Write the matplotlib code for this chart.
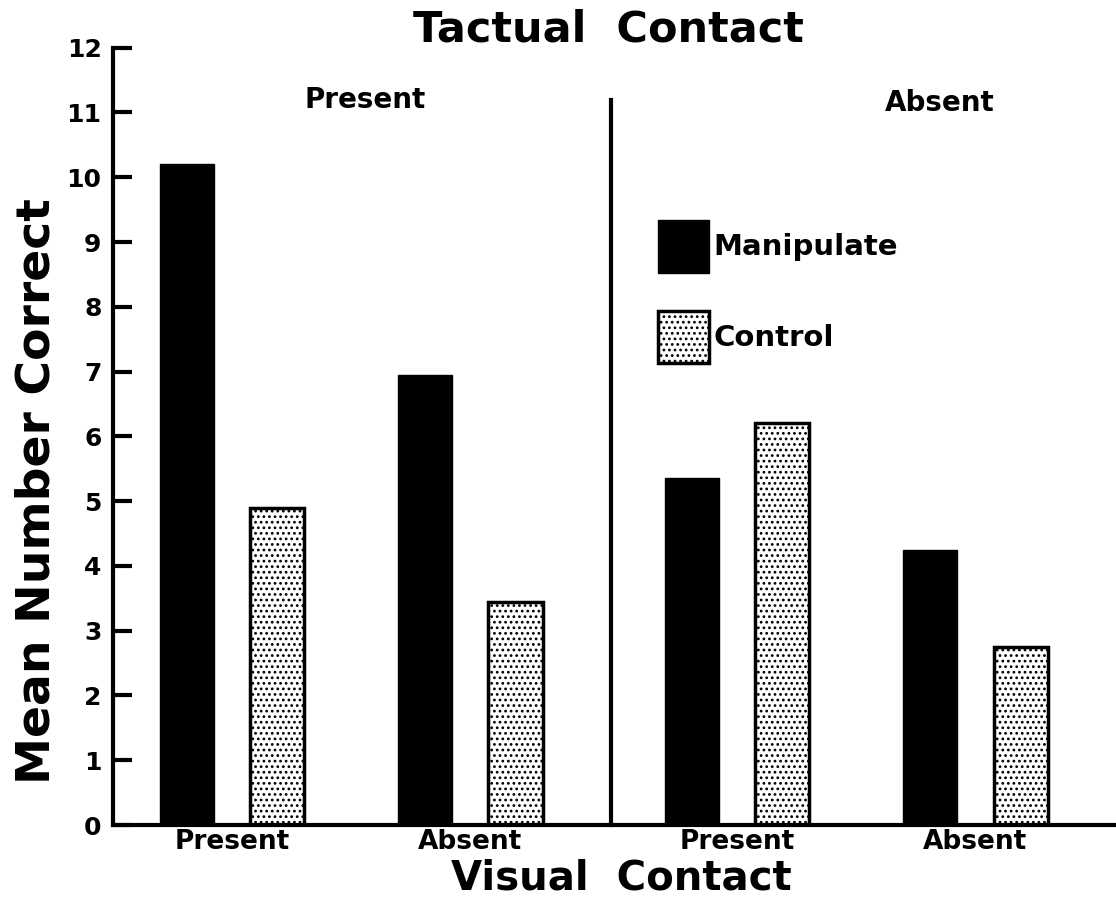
import matplotlib
matplotlib.use("Agg")
import matplotlib.pyplot as plt
import numpy as np

# data
visual = ["Present", "Absent", "Present", "Absent"]
tactual = ["Present", "Absent"]
manipulate = [10.2, 6.95, 5.35, 4.25]
control = [4.9, 3.45, 6.2, 2.75]

plt.rcParams['font.family'] = ['DejaVu Sans']
plt.rcParams['hatch.linewidth'] = 1.2

fig = plt.figure(figsize=(11.16, 9.07), dpi=100)
ax = fig.add_axes([0.101, 0.0904, 0.899, 0.857])

# group centres, a bit more room between the two tactual blocks
x = np.array([0, 1, 2.12, 3.12])
w = 0.227
off = 0.19

b1 = ax.bar(x - off, manipulate, w, color='black', edgecolor='black', label='Manipulate')
b2 = ax.bar(x + off, control, w, color='white', edgecolor='black', linewidth=2.5,
            hatch='...', label='Control')

ax.set_xlim(-0.5, 3.71)
ax.set_ylim(0, 12)
ax.set_yticks(range(0, 13))
ax.set_yticklabels([str(i) for i in range(13)], fontsize=18, fontweight='bold')
ax.tick_params(axis='y', direction='in', length=14, width=3, pad=8)
ax.set_xticks(x)
ax.set_xticklabels(visual, fontsize=19, fontweight='bold')
ax.tick_params(axis='x', length=0, pad=3)

for s in ['top', 'right']:
    ax.spines[s].set_visible(False)
ax.spines['left'].set_linewidth(3)
ax.spines['bottom'].set_linewidth(3)

# divider between tactual present / absent
mid = (x[1] + x[2]) / 2 + 0.03
ax.plot([mid, mid], [0, 11.2], color='black', linewidth=3, clip_on=False)

ax.text((x[0] + x[1]) / 2 + 0.058, 11.2, tactual[0], ha='center', va='center',
        fontsize=20, fontweight='bold')
ax.text((x[2] + x[3]) / 2 + 0.35, 11.15, tactual[1], ha='center', va='center',
        fontsize=20, fontweight='bold')

ax.set_ylabel('Mean Number Correct', fontsize=34, fontweight='bold')
ax.yaxis.set_label_coords(-0.053, 0.43)
fig.text(0.545, 0.968, 'Tactual  Contact', ha='center', va='center',
         fontsize=31, fontweight='bold')
fig.text(0.557, 0.053, 'Visual  Contact', ha='center', va='top',
         fontsize=29, fontweight='bold')

ax.legend(handles=[b1, b2], loc='upper left', bbox_to_anchor=(0.517, 0.812),
          frameon=False, prop={'weight': 'bold', 'size': 21},
          handlelength=1.75, handleheight=2.4, labelspacing=1.3, handletextpad=0.15)

fig.savefig('out.png', dpi=100)
